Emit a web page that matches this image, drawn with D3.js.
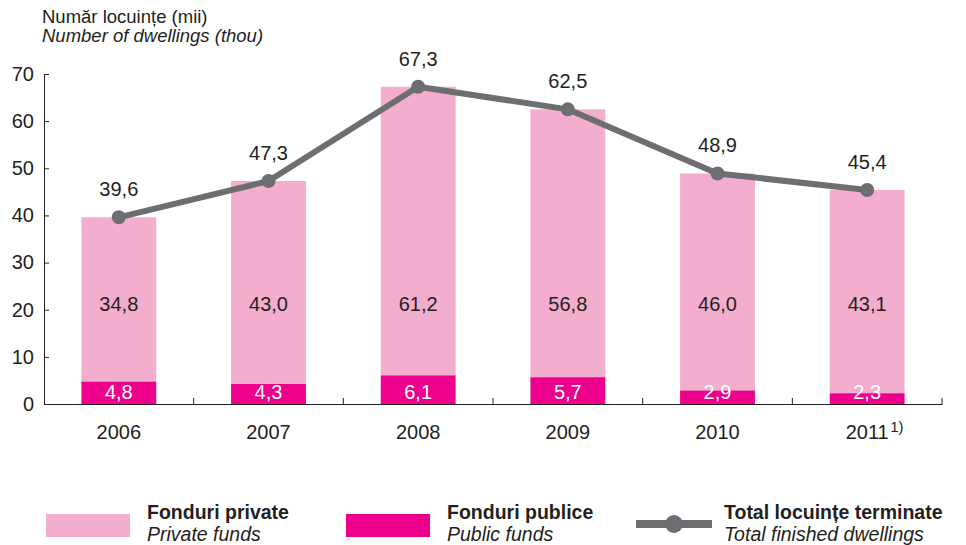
<!DOCTYPE html>
<html>
<head>
<meta charset="utf-8">
<script src="https://cdn.jsdelivr.net/npm/d3@7"></script>
<style>
  body { margin: 0; background: #ffffff; }
  text { font-family: "Liberation Sans", Arial, sans-serif; fill: #231f20; }
</style>
</head>
<body>
<svg width="966" height="545"></svg>
<script>
const years = ["2006", "2007", "2008", "2009", "2010", "2011"];
const privateFunds = [34.8, 43.0, 61.2, 56.8, 46.0, 43.1];
const publicFunds = [4.8, 4.3, 6.1, 5.7, 2.9, 2.3];
const totalDwellings = [39.6, 47.3, 67.3, 62.5, 48.9, 45.4];
const yTicks = [0, 10, 20, 30, 40, 50, 60, 70];

const svg = d3.select("svg"),
  width = +svg.attr("width"),
  height = +svg.attr("height");

const colPrivate = "#f4aecd",
  colPublic = "#ec008c",
  colLine = "#6d6e71";

const fmt = v => d3.format(".1f")(v).replace(".", ",");

// Scale-uri
const x = d3.scaleBand()
  .domain(years)
  .range([44, 942])
  .padding(0);

const y = d3.scaleLinear()
  .domain([0, 70])
  .range([404, 74]);

const bw = x.bandwidth();
const barW = bw * 0.5;

const data = years.map((yr, i) => ({
  year: yr,
  priv: privateFunds[i],
  pub: publicFunds[i],
  total: totalDwellings[i]
}));

// Titlu axa Y
svg.append("text")
  .attr("x", 42).attr("y", 23)
  .style("font-size", "18.5px")
  .text("Număr locuințe (mii)");
svg.append("text")
  .attr("x", 42).attr("y", 42)
  .style("font-size", "18.5px")
  .style("font-style", "italic")
  .text("Number of dwellings (thou)");

// Bare - fonduri publice (jos)
svg.selectAll("rect.pub")
  .data(data)
  .join("rect")
  .attr("class", "pub")
  .attr("x", d => x(d.year) + (bw - barW) / 2)
  .attr("width", barW)
  .attr("y", d => y(d.pub))
  .attr("height", d => y(0) - y(d.pub))
  .attr("fill", colPublic);

// Bare - fonduri private (sus)
svg.selectAll("rect.priv")
  .data(data)
  .join("rect")
  .attr("class", "priv")
  .attr("x", d => x(d.year) + (bw - barW) / 2)
  .attr("width", barW)
  .attr("y", d => y(d.pub + d.priv))
  .attr("height", d => y(d.pub) - y(d.pub + d.priv))
  .attr("fill", colPrivate);

// Axa Y
const yAxis = svg.append("g")
  .attr("transform", "translate(44,0)")
  .call(d3.axisLeft(y).tickValues(yTicks).tickSize(-5).tickSizeOuter(0).tickPadding(10));
yAxis.select(".domain").attr("stroke", "#231f20");
yAxis.selectAll(".tick line").attr("stroke", "#231f20");
yAxis.selectAll(".tick text")
  .style("font-size", "20px")
  .style("font-family", "'Liberation Sans', Arial, sans-serif")
  .attr("fill", "#231f20");

// Axa X
const xAxis = svg.append("g")
  .attr("transform", "translate(0,404)")
  .call(d3.axisBottom(x).tickSize(0).tickPadding(21));
xAxis.select(".domain").attr("stroke", "#231f20");
xAxis.selectAll(".tick text")
  .style("font-size", "20px")
  .style("font-family", "'Liberation Sans', Arial, sans-serif")
  .attr("fill", "#231f20");

// Liniute intre categorii
svg.selectAll("line.sep")
  .data(years)
  .join("line")
  .attr("class", "sep")
  .attr("x1", d => x(d) + bw)
  .attr("x2", d => x(d) + bw)
  .attr("y1", 404)
  .attr("y2", 398)
  .attr("stroke", "#231f20");

// Nota 1) la 2011
svg.append("text")
  .attr("x", x("2011") + bw / 2 + 23)
  .attr("y", 432)
  .style("font-size", "15px")
  .text("1)");

// Etichete fonduri private
svg.selectAll("text.lprv")
  .data(data)
  .join("text")
  .attr("class", "lprv")
  .attr("x", d => x(d.year) + bw / 2)
  .attr("y", y(0) - 93)
  .attr("text-anchor", "middle")
  .style("font-size", "20px")
  .text(d => fmt(d.priv));

// Etichete fonduri publice
svg.selectAll("text.lpub")
  .data(data)
  .join("text")
  .attr("class", "lpub")
  .attr("x", d => x(d.year) + bw / 2)
  .attr("y", y(0) - 5)
  .attr("text-anchor", "middle")
  .style("font-size", "20px")
  .style("fill", "#ffffff")
  .text(d => fmt(d.pub));

// Linia total
const line = d3.line()
  .x(d => x(d.year) + bw / 2)
  .y(d => y(d.total));

svg.append("path")
  .datum(data)
  .attr("d", line)
  .attr("fill", "none")
  .attr("stroke", colLine)
  .attr("stroke-width", 6)
  .attr("stroke-linejoin", "round");

svg.selectAll("circle.pt")
  .data(data)
  .join("circle")
  .attr("class", "pt")
  .attr("cx", d => x(d.year) + bw / 2)
  .attr("cy", d => y(d.total))
  .attr("r", 7)
  .attr("fill", colLine);

svg.selectAll("text.ltot")
  .data(data)
  .join("text")
  .attr("class", "ltot")
  .attr("x", d => x(d.year) + bw / 2)
  .attr("y", d => y(d.total) - 21)
  .attr("text-anchor", "middle")
  .style("font-size", "20px")
  .text(d => fmt(d.total));

// Legenda
const legendItems = [
  { bold: "Fonduri private", ital: "Private funds", type: "rect", color: colPrivate, x: 46 },
  { bold: "Fonduri publice", ital: "Public funds", type: "rect", color: colPublic, x: 346 },
  { bold: "Total locuințe terminate", ital: "Total finished dwellings", type: "line", color: colLine, x: 636 }
];

legendItems.forEach(it => {
  const g = svg.append("g").attr("transform", `translate(${it.x},0)`);
  let tx = 101;
  if (it.type === "rect") {
    g.append("rect").attr("x", 0).attr("y", 514).attr("width", 84).attr("height", 23).attr("fill", it.color);
  } else {
    tx = 88;
    g.append("line").attr("x1", 0).attr("x2", 76).attr("y1", 524).attr("y2", 524)
      .attr("stroke", it.color).attr("stroke-width", 8);
    g.append("circle").attr("cx", 38).attr("cy", 524).attr("r", 9).attr("fill", it.color);
  }
  g.append("text").attr("x", tx).attr("y", 519).style("font-size", "19.5px").style("font-weight", "bold").text(it.bold);
  g.append("text").attr("x", tx).attr("y", 541).style("font-size", "19.5px").style("font-style", "italic").text(it.ital);
});
</script>
</body>
</html>
